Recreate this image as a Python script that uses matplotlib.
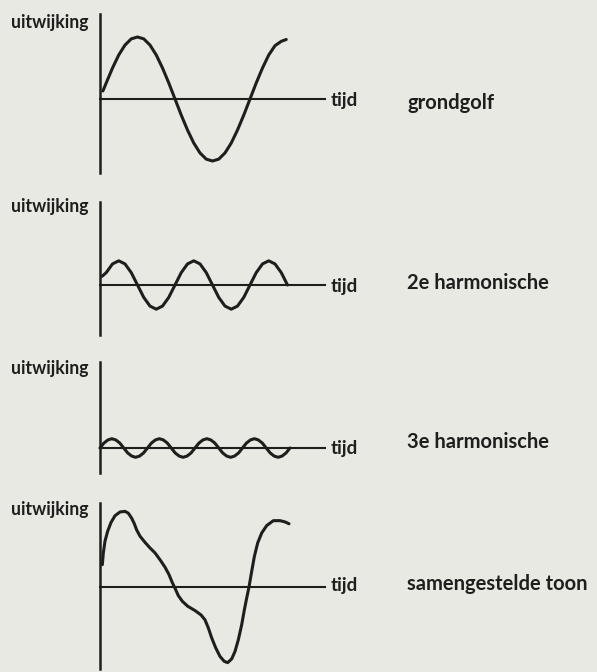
import matplotlib.pyplot as plt

W, H = 597, 672
BG = '#e9e9e3'
INK = '#1e1e1e'

# phase in degrees of the fundamental, displacement in units of its amplitude
grond_phase = [7, 15, 30, 45, 60, 75, 90, 105, 120, 135, 150, 165, 180, 195, 210, 225,
               240, 255, 270, 285, 300, 315, 330, 345, 360, 375, 390, 405, 420, 435, 447]
grond_y = [0.13, 0.26, 0.50, 0.71, 0.87, 0.97, 1.00, 0.97, 0.87, 0.71, 0.50, 0.26, 0.00, -0.26, -0.50, -0.71,
           -0.87, -0.97, -1.00, -0.97, -0.87, -0.71, -0.50, -0.26, 0.00, 0.26, 0.50, 0.71, 0.86, 0.93, 0.96]

h2_phase = [5, 15, 30, 45, 60, 75, 90, 105, 120, 135, 150, 165, 180, 195, 210, 225,
            240, 255, 270, 285, 300, 315, 330, 345, 360, 375, 390, 405, 420, 435, 450]
h2_y = [0.14, 0.20, 0.34, 0.39, 0.34, 0.20, 0.00, -0.20, -0.34, -0.39, -0.34, -0.20, 0.00, 0.20, 0.34, 0.39,
        0.34, 0.20, 0.00, -0.20, -0.34, -0.39, -0.34, -0.20, 0.00, 0.20, 0.34, 0.39, 0.34, 0.20, 0.00]

h3_phase = [0, 9.5, 19, 28.5, 38, 47.5, 57, 66.5, 76, 85.5, 95, 104.5,
            114, 123.5, 133, 142.5, 152, 161.5, 171, 180.5, 190, 199.5, 209, 218.5,
            228, 237.5, 247, 256.5, 266, 275.5, 285, 294.5, 304, 313.5, 323, 332.5,
            342, 351.5, 361, 370.5, 380, 389.5, 399, 408.5, 418, 427.5, 437, 446.5, 456]
h3_y = [0, 0.08, 0.13, 0.15, 0.13, 0.08, 0, -0.08, -0.13, -0.15, -0.13, -0.08,
        0, 0.08, 0.13, 0.15, 0.13, 0.08, 0, -0.08, -0.13, -0.15, -0.13, -0.08,
        0, 0.08, 0.13, 0.15, 0.13, 0.08, 0, -0.08, -0.13, -0.15, -0.13, -0.08,
        0, 0.08, 0.13, 0.15, 0.13, 0.08, 0, -0.08, -0.13, -0.15, -0.13, -0.08, 0]

toon_phase = [5.6, 8, 12, 18.4, 26.4, 36, 48, 60, 68, 76, 82.4, 88, 96, 108, 120, 132,
              144, 156, 165.6, 173.6, 180, 188, 197.6, 210.4, 228, 242.4, 252, 260, 268, 277.6, 288, 298.4,
              306.4, 316, 324, 332, 340, 346.4, 352, 357.6, 364, 370.4, 378.4, 388, 400, 416, 432, 444, 453.6]
toon_y = [0.36, 0.55, 0.74, 0.90, 1.04, 1.15, 1.21, 1.22, 1.19, 1.11, 1.02, 0.92, 0.82, 0.72, 0.63, 0.55,
          0.44, 0.32, 0.20, 0.07, -0.02, -0.14, -0.23, -0.31, -0.38, -0.45, -0.53, -0.66, -0.82, -0.98, -1.12, -1.20,
          -1.22, -1.16, -1.04, -0.85, -0.61, -0.37, -0.18, 0.00, 0.25, 0.49, 0.71, 0.87, 0.99, 1.07, 1.07, 1.05, 1.02]

NAMES = ['grondgolf', '2e harmonische', '3e harmonische', 'samengestelde toon']
Y_LABEL = 'uitwijking'
X_LABEL = 'tijd'

SERIES = [(grond_phase, grond_y), (h2_phase, h2_y), (h3_phase, h3_y), (toon_phase, toon_y)]

# pixel layout per panel: top of y-axis, time axis, bottom of y-axis,
# baselines of "uitwijking", "tijd" and the name
LAYOUT = [
    (14, 99, 173, 28, 106, 109),
    (202, 285, 335, 212, 292, 289),
    (362, 448, 473, 374, 454, 448),
    (503, 587, 669, 515, 591, 590),
]

X0, X1 = 100, 325
PX_PER_AMP = 62
PHASE_MAX = 540

fig = plt.figure(figsize=(W / 100, H / 100), dpi=100, facecolor=BG)

for (ph, y), name, (top, axis, bottom, ub, tb, nb) in zip(SERIES, NAMES, LAYOUT):
    ax = fig.add_axes([X0 / W, 1 - bottom / H, (X1 - X0) / W, (bottom - top) / H])
    ax.set_xlim(0, PHASE_MAX)
    ax.set_ylim(-(bottom - axis) / PX_PER_AMP, (axis - top) / PX_PER_AMP)
    ax.patch.set_visible(False)
    ax.plot(ph, y, color=INK, lw=2.2, solid_capstyle='round',
            solid_joinstyle='round', clip_on=False)

    for s in ['top', 'right']:
        ax.spines[s].set_visible(False)
    ax.spines['bottom'].set_position(('data', 0))
    ax.spines['left'].set_linewidth(1.8)
    ax.spines['bottom'].set_linewidth(1.5)
    ax.spines['left'].set_color(INK)
    ax.spines['bottom'].set_color(INK)
    ax.set_xticks([])
    ax.set_yticks([])

    fig.text(88 / W, 1 - ub / H, Y_LABEL, ha='right', va='baseline',
             family='Lato', fontweight='bold', fontsize=12.7, color=INK)
    fig.text(331 / W, 1 - tb / H, X_LABEL, ha='left', va='baseline',
             family='Lato', fontweight='bold', fontsize=13.5, color=INK)
    fig.text(407 / W, 1 - nb / H, name, ha='left', va='baseline',
             family='Lato', fontweight='bold', fontsize=14.5, color=INK)

fig.savefig('out.png', dpi=100, facecolor=BG)
